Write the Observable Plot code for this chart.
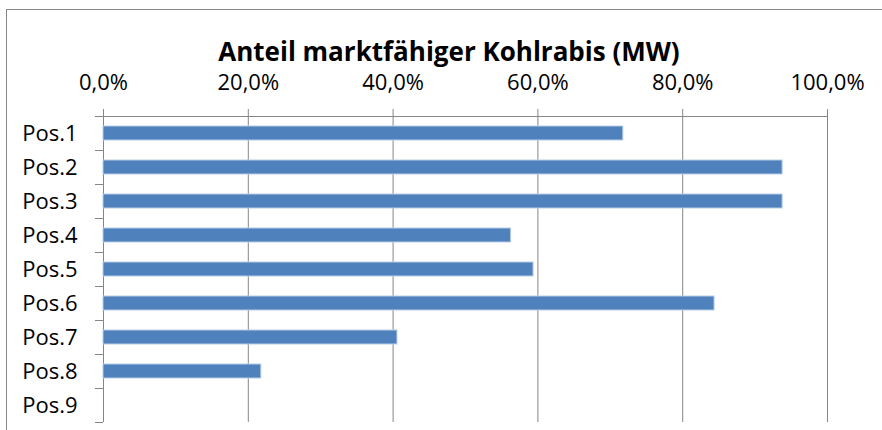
<!DOCTYPE html>
<html>
<head>
<meta charset="utf-8">
<script src="https://cdn.jsdelivr.net/npm/d3@7"></script>
<script src="https://cdn.jsdelivr.net/npm/@observablehq/plot@0.6"></script>
<style>
  html, body { margin: 0; padding: 0; background: #fff; width: 882px; height: 430px; overflow: hidden; position: relative; font-family: "Open Sans", sans-serif; }
  #border { position: absolute; left: 6px; top: 9px; width: 878px; height: 460px; border: 1px solid #868686; box-sizing: border-box; }
  #title { position: absolute; left: 12px; top: 41px; width: 874px; text-align: center; font-weight: bold; font-size: 26px; line-height: 20px; color: #000; white-space: nowrap; z-index: 2; }
  #chart { position: absolute; left: 0; top: 20px; }
</style>
</head>
<body>
<div id="border"></div>
<div id="title"></div>
<div id="chart"></div>
<script>
const title = "Anteil marktfähiger Kohlrabis (MW)";
const categories = ["Pos.1", "Pos.2", "Pos.3", "Pos.4", "Pos.5", "Pos.6", "Pos.7", "Pos.8", "Pos.9"];
const values = [0.718, 0.938, 0.938, 0.563, 0.594, 0.844, 0.406, 0.218, null];
const xTicks = [0, 0.2, 0.4, 0.6, 0.8, 1.0];

document.getElementById("title").textContent = title;

const data = categories.map((c, i) => ({cat: c, value: values[i]})).filter(d => d.value != null);

const W = 882, H = 410, mt = 96, mb = 8, ml = 103, mr = 55;
const step = (H - mt - mb) / categories.length;
const grey = "#868686";
const fmt = d => (d * 100).toFixed(1).replace(".", ",") + "%";

const chart = Plot.plot({
  width: W,
  height: H,
  marginTop: mt,
  marginBottom: mb,
  marginLeft: ml,
  marginRight: mr,
  style: {fontFamily: "Open Sans, sans-serif", fontSize: "22px", color: "#000", background: "transparent"},
  x: {domain: [0, 1]},
  y: {domain: categories, paddingInner: 0.59, paddingOuter: 0.295},
  marks: [
    Plot.gridX(xTicks, {stroke: grey, strokeOpacity: 1, strokeWidth: 1}),
    Plot.ruleY([categories[0]], {stroke: grey, strokeWidth: 1, dy: -step / 2}),
    Plot.barX(data, {x: "value", y: "cat", fill: "#4F81BD", stroke: "#b9cde5", strokeWidth: 1}),
    Plot.axisX(xTicks, {anchor: "top", tickSize: 8, tickPadding: 19, tickFormat: fmt, stroke: grey, fill: "#000", fontSize: 22, label: null}),
    Plot.axisY(categories, {tickSize: 0, tickPadding: 26, fill: "#000", fontSize: 22, label: null, textAnchor: "end"}),
    Plot.axisY(categories, {tickSize: 8, tickFormat: () => "", stroke: grey, label: null, dy: -step / 2}),
    Plot.axisY([categories[categories.length - 1]], {tickSize: 8, tickFormat: () => "", stroke: grey, label: null, dy: step / 2})
  ]
});
document.getElementById("chart").appendChild(chart);
</script>
</body>
</html>
